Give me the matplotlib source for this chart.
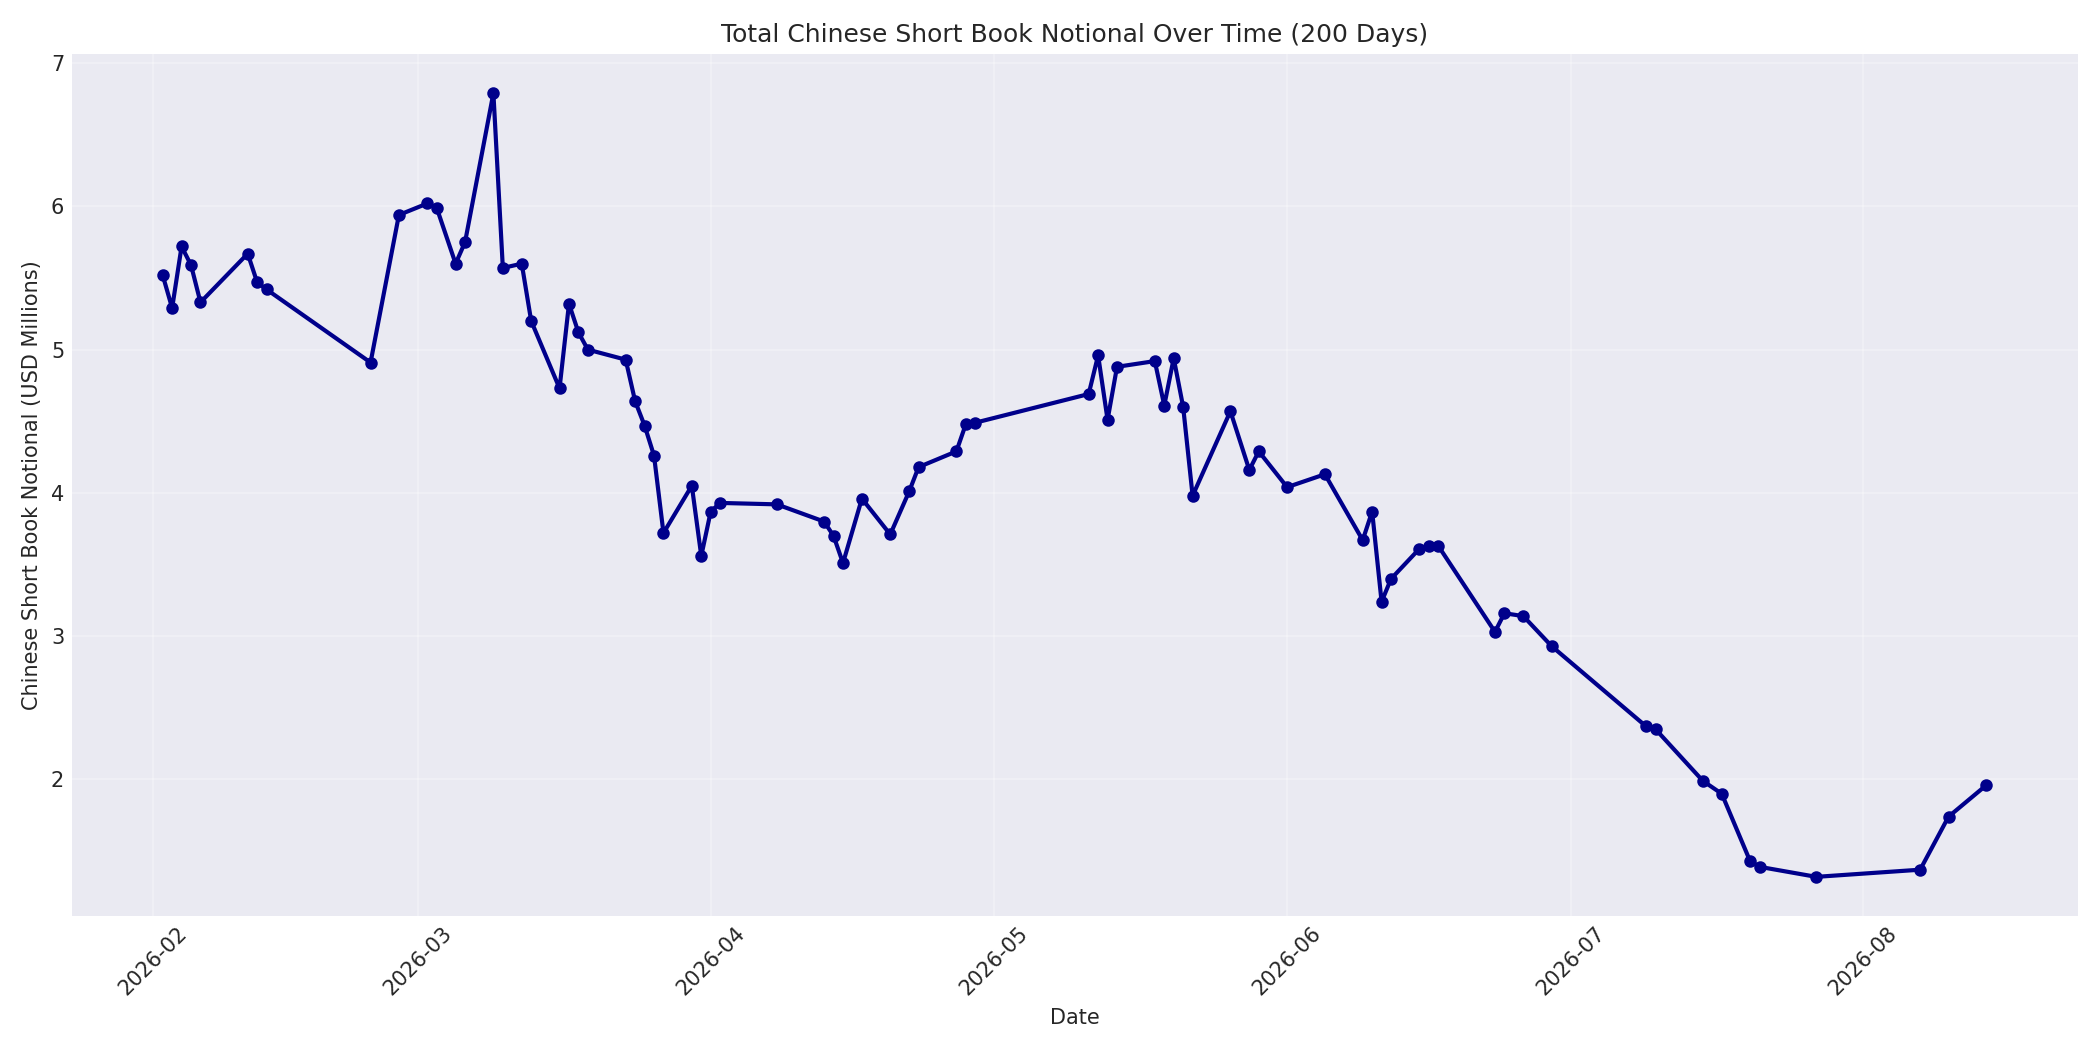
import matplotlib
matplotlib.use('Agg')
import matplotlib.pyplot as plt
import matplotlib.dates as mdates
import pandas as pd

# trading days (2026) and short book notional, USD millions
dates = [
    '2026-02-02', '2026-02-03', '2026-02-04', '2026-02-05', '2026-02-06',
    '2026-02-11', '2026-02-12', '2026-02-13', '2026-02-24', '2026-02-27',
    '2026-03-02', '2026-03-03', '2026-03-05', '2026-03-06', '2026-03-09',
    '2026-03-10', '2026-03-12', '2026-03-13', '2026-03-16', '2026-03-17',
    '2026-03-18', '2026-03-19', '2026-03-23', '2026-03-24', '2026-03-25',
    '2026-03-26', '2026-03-27', '2026-03-30', '2026-03-31',
    '2026-04-01', '2026-04-02', '2026-04-08', '2026-04-13', '2026-04-14',
    '2026-04-15', '2026-04-17', '2026-04-20', '2026-04-22', '2026-04-23',
    '2026-04-27', '2026-04-28', '2026-04-29',
    '2026-05-11', '2026-05-12', '2026-05-13', '2026-05-14', '2026-05-18',
    '2026-05-19', '2026-05-20', '2026-05-21', '2026-05-22', '2026-05-26',
    '2026-05-28', '2026-05-29',
    '2026-06-01', '2026-06-05', '2026-06-09', '2026-06-10', '2026-06-11',
    '2026-06-12', '2026-06-15', '2026-06-16', '2026-06-17', '2026-06-23',
    '2026-06-24', '2026-06-26', '2026-06-29',
    '2026-07-09', '2026-07-10', '2026-07-15', '2026-07-17', '2026-07-20',
    '2026-07-21', '2026-07-27',
    '2026-08-07', '2026-08-10', '2026-08-14',
]
notional = [
    5.52, 5.29, 5.72, 5.59, 5.33,
    5.67, 5.47, 5.42, 4.91, 5.94,
    6.02, 5.99, 5.60, 5.75, 6.79,
    5.57, 5.60, 5.20, 4.73, 5.32,
    5.12, 5.00, 4.93, 4.64, 4.47,
    4.26, 3.72, 4.05, 3.56,
    3.87, 3.93, 3.92, 3.80, 3.70,
    3.51, 3.96, 3.71, 4.01, 4.18,
    4.29, 4.48, 4.49,
    4.69, 4.96, 4.51, 4.88, 4.92,
    4.61, 4.94, 4.60, 3.98, 4.57,
    4.16, 4.29,
    4.04, 4.13, 3.67, 3.87, 3.24,
    3.40, 3.61, 3.63, 3.63, 3.03,
    3.16, 3.14, 2.93,
    2.37, 2.35, 1.99, 1.90, 1.43,
    1.39, 1.32,
    1.37, 1.74, 1.96,
]

dates = pd.to_datetime(dates)

plt.style.use('seaborn-v0_8-darkgrid')
plt.rcParams['font.family'] = ['DejaVu Sans']
fig, ax = plt.subplots(figsize=(14, 7), dpi=150)
ax.plot(dates, notional, marker='o', color='darkblue', linewidth=2, markersize=5)

ax.set_title('Total Chinese Short Book Notional Over Time (200 Days)')
ax.set_xlabel('Date')
ax.set_ylabel('Chinese Short Book Notional (USD Millions)')
ax.grid(True, alpha=0.3)
ax.xaxis.set_major_locator(mdates.MonthLocator())
ax.xaxis.set_major_formatter(mdates.DateFormatter('%Y-%m'))
plt.xticks(rotation=45)

plt.tight_layout()
plt.savefig('out.png', dpi=150)
